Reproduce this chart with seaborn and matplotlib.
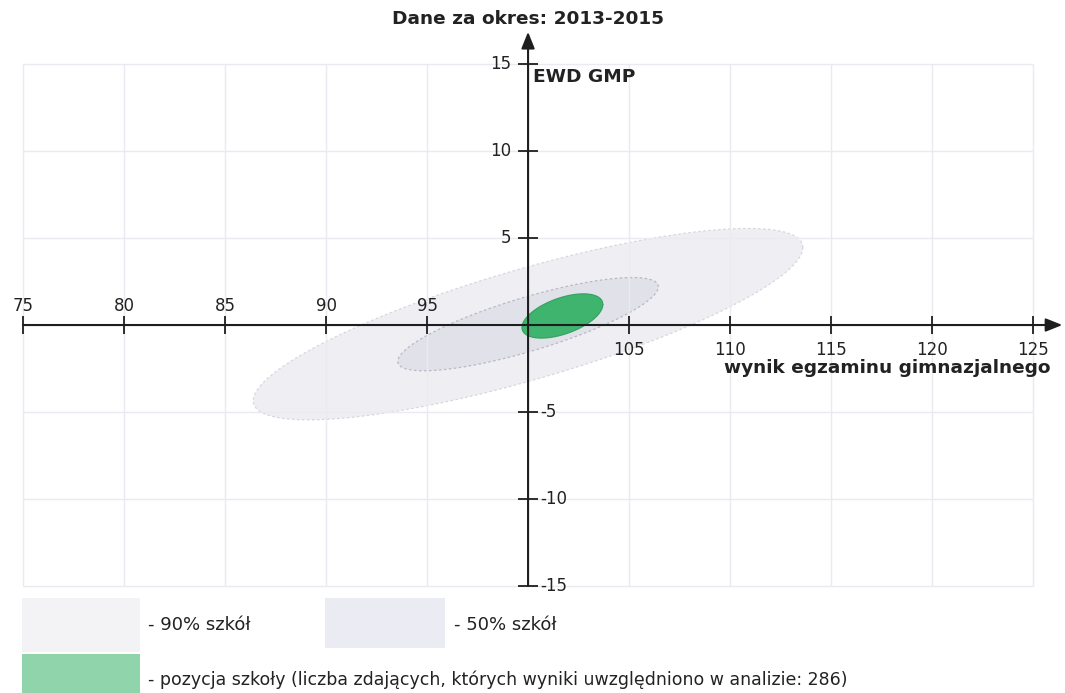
import numpy as np
import pandas as pd
import matplotlib
matplotlib.use("Agg")
import matplotlib.pyplot as plt
from matplotlib.patches import Rectangle
import seaborn as sns

# ellipse parameters (data units)
names = ["90% szkół", "50% szkół", "pozycja szkoły"]
center_x = [100.0, 100.0, 101.7]
center_y = [0.05, 0.05, 0.52]
half_x = [13.6, 6.45, 2.0]
half_y = [5.5, 2.68, 1.27]
tilt = [0.80, 0.80, 0.52]

x_ticks = [75, 80, 85, 90, 95, 105, 110, 115, 120, 125]
y_ticks = [15, 10, 5, -5, -10, -15]

title = "Dane za okres: 2013-2015"
x_label = "wynik egzaminu gimnazjalnego"
y_label = "EWD GMP"
legend_school = "- pozycja szkoły (liczba zdających, których wyniki uwzględniono w analizie: 286)"

fills = ["#efeff3", "#e1e1e9", "#3fb46f"]
edges = ["#d6d6df", "#b8b8c6", "#35a362"]
legend_fills = ["#f3f3f6", "#ebebf3", "#8fd4aa"]

sns.set_style("white")
plt.rcParams["font.family"] = ["DejaVu Sans"]

W, H = 1065, 693
fig = plt.figure(figsize=(W / 100, H / 100), dpi=100)
ax = fig.add_axes([0, 0, 1, 1])
ax.set_xlim(73.86, 126.58)
ax.set_ylim(-21.15, 18.68)
ax.axis("off")

# grid
grid_c = "#eaeaf0"
ax.vlines(np.arange(75, 126, 5), -15, 15, color=grid_c, lw=1, zorder=1)
ax.hlines(np.arange(-15, 16, 5), 75, 125, color=grid_c, lw=1, zorder=1)

# ellipses
t = np.linspace(0, 2 * np.pi, 300)
rows = []
for i, name in enumerate(names):
    phi = np.arcsin(tilt[i])
    ex = center_x[i] + half_x[i] * np.cos(t)
    ey = center_y[i] + half_y[i] * np.sin(t + phi)
    z = 2.5 if i == 2 else 0.5 + i * 0.1
    ax.fill(ex, ey, color=fills[i], lw=0, zorder=z)
    rows.append(pd.DataFrame({"x": ex, "y": ey, "t": t, "name": name}))
shapes = pd.concat(rows)
for i, name in enumerate(names):
    sub = shapes[shapes["name"] == name]
    sns.lineplot(data=sub, x="x", y="y", sort=False, estimator=None, ax=ax,
                 color=edges[i], lw=0.9, linestyle=(0, (2, 2)) if i < 2 else "-",
                 zorder=2.6 if i == 2 else 0.9)

# axes with arrows
ink = "#1e1e1e"
ax.annotate("", xy=(126.45, 0), xytext=(75, 0),
            arrowprops=dict(arrowstyle="-|>,head_length=1.0,head_width=0.4",
                            color=ink, lw=1.5, shrinkA=0, shrinkB=0), zorder=4)
ax.annotate("", xy=(100, 16.85), xytext=(100, -15),
            arrowprops=dict(arrowstyle="-|>,head_length=1.0,head_width=0.4",
                            color=ink, lw=1.5, shrinkA=0, shrinkB=0), zorder=4)

ax.vlines(x_ticks, -0.5, 0.5, color=ink, lw=1.3, zorder=4)
ax.hlines(y_ticks, 99.5, 100.5, color=ink, lw=1.3, zorder=4)

for v in x_ticks:
    if v < 100:
        ax.text(v, 0.6, str(v), ha="center", va="bottom", fontsize=12, color="#222")
    else:
        ax.text(v, -0.9, str(v), ha="center", va="top", fontsize=12, color="#222")
for v in y_ticks:
    if v > 0:
        ax.text(99.15, v, str(v), ha="right", va="center", fontsize=12, color="#222")
    else:
        ax.text(100.6, v, str(v), ha="left", va="center", fontsize=12, color="#222")

ax.text(100.25, 14.25, y_label, ha="left", va="center", fontsize=13.3,
        fontweight="bold", color="#222")
ax.text(125.85, -2.45, x_label, ha="right", va="center", fontsize=13.3,
        fontweight="bold", color="#222")
ax.text(100.0, 17.6, title, ha="center", va="center", fontsize=13.3,
        fontweight="bold", color="#222")

# legend
def box(x0, y0, x1, y1, c):
    fig.add_artist(Rectangle((x0 / W, 1 - y1 / H), (x1 - x0) / W, (y1 - y0) / H,
                             transform=fig.transFigure, color=c, lw=0))

box(22, 598, 140, 652, legend_fills[0])
box(325, 598, 445, 648, legend_fills[1])
box(22, 654, 140, 700, legend_fills[2])
fig.text(148 / W, 1 - 625 / H, "- " + names[0], ha="left", va="center", fontsize=13, color="#222")
fig.text(454 / W, 1 - 625 / H, "- " + names[1], ha="left", va="center", fontsize=13, color="#222")
fig.text(148 / W, 1 - 680 / H, legend_school, ha="left", va="center", fontsize=12.5, color="#222")

fig.savefig("out.png", dpi=100)
